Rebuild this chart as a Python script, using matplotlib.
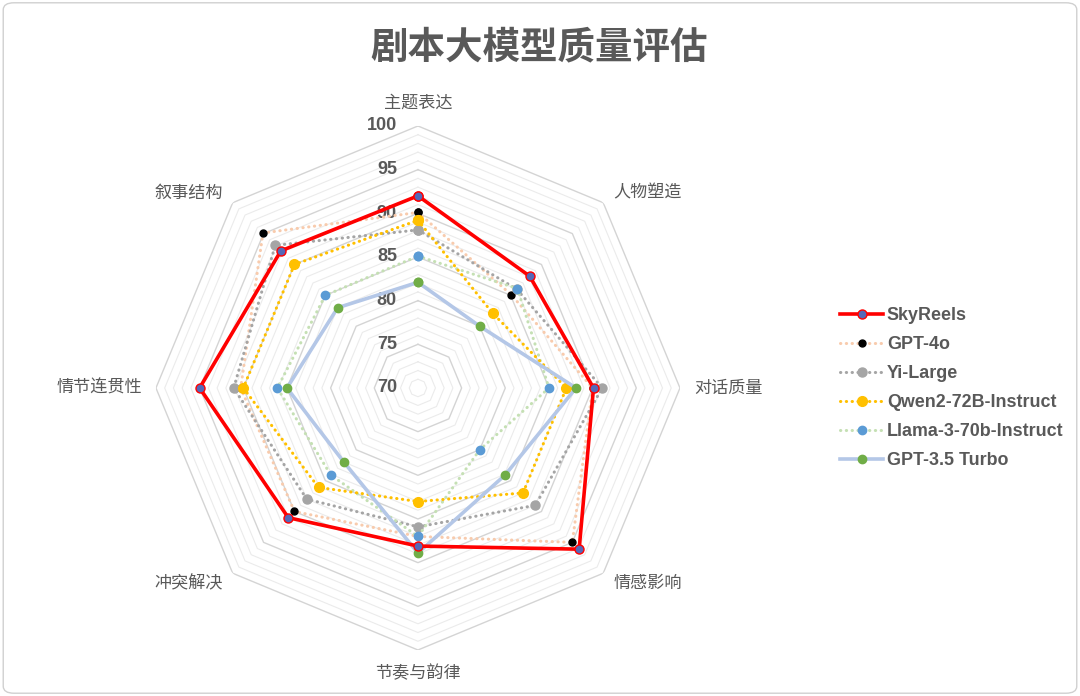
import numpy as np
import matplotlib
matplotlib.use("Agg")
import matplotlib.pyplot as plt
from matplotlib.transforms import ScaledTranslation
from matplotlib.patches import FancyBboxPatch

categories = ['主题表达', '人物塑造', '对话质量', '情感影响',
              '节奏与韵律', '冲突解决', '情节连贯性', '叙事结构']
skyreels = [92.0, 88.1, 90.1, 96.1, 88.1, 91.0, 95.0, 92.2]
gpt4o = [90.1, 85.1, 90.0, 95.0, 87.0, 90.0, 90.3, 95.1]
yi_large = [88.1, 86.0, 91.1, 89.0, 85.9, 88.0, 91.1, 93.1]
qwen2 = [89.2, 82.1, 87.0, 87.0, 83.0, 86.1, 90.0, 90.0]
llama3 = [85.1, 86.1, 85.0, 80.0, 87.0, 84.1, 86.1, 85.0]
gpt35 = [82.1, 80.0, 88.1, 84.1, 88.9, 82.0, 85.0, 83.0]
r_ticks = [70, 75, 80, 85, 90, 95, 100]

TXT = '#595959'
CJK = ['Noto Sans CJK SC', 'DejaVu Sans']

fig = plt.figure(figsize=(10.8, 6.96), dpi=100)
fig.patch.set_facecolor('white')
fig.patches.append(FancyBboxPatch((0.003, 0.004), 0.994, 0.992, boxstyle='round,pad=0,rounding_size=0.01',
                                  transform=fig.transFigure, fill=False, edgecolor='#d0d0d0', lw=1))

ax = fig.add_axes([0.1444, 0.0661, 0.4852, 0.7529], projection='polar')
ax.set_theta_offset(np.pi / 2)
ax.set_theta_direction(-1)
ax.set_ylim(70, 100)
ax.grid(False)
ax.spines['polar'].set_visible(False)
ax.set_xticks([])
ax.set_yticks([])
ax.patch.set_alpha(0)

n = len(categories)
theta = np.arange(n) * 2 * np.pi / n
theta_c = np.append(theta, theta[0])

# octagonal grid rings
for v in range(71, 101):
    major = v % 5 == 0
    ax.plot(theta_c, [v] * (n + 1), color='#d4d4d4' if major else '#ebebeb',
            lw=1.0 if major else 0.8, zorder=1)

# value labels on top axis
off = ScaledTranslation(-0.21, 0, fig.dpi_scale_trans)
for v in r_ticks:
    ax.text(0, v, str(v), transform=ax.transData + off, ha='right', va='center',
            fontsize=13, fontweight='bold', color=TXT, family='Liberation Sans', zorder=2)

# category labels
r_lab = 70 + 276 / 262 * 30
for t, c in zip(theta, categories):
    s = np.sin(t)
    co = np.cos(t)
    ha = 'center' if abs(s) < 0.1 else ('left' if s > 0 else 'right')
    if abs(co) > 0.99:
        va = 'bottom' if co > 0 else 'top'
    else:
        va = 'center'
    ax.text(t, r_lab, c, ha=ha, va=va, fontsize=12.3, color=TXT, family=CJK)

dot = (0, (0.1, 1.8))


def close(vals):
    return list(vals) + [vals[0]]


ax.plot(theta_c, close(gpt4o), color='#F8CBAD', lw=2.2, ls=dot, dash_capstyle='round',
        marker='o', ms=5, mfc='black', mec='black', label='GPT-4o', zorder=3)
ax.plot(theta_c, close(yi_large), color='#A5A5A5', lw=2.2, ls=dot, dash_capstyle='round',
        marker='o', ms=6.5, mfc='#A5A5A5', mec='#A5A5A5', label='Yi-Large', zorder=4)
ax.plot(theta_c, close(qwen2), color='#FFC000', lw=2.2, ls=dot, dash_capstyle='round',
        marker='o', ms=7, mfc='#FFC000', mec='#FFC000', label='Qwen2-72B-Instruct', zorder=6)
ax.plot(theta_c, close(llama3), color='#C5E0B4', lw=2.2, ls=dot, dash_capstyle='round',
        marker='o', ms=6, mfc='#5B9BD5', mec='#5B9BD5', label='Llama-3-70b-Instruct', zorder=5)
ax.plot(theta_c, close(gpt35), color='#B4C7E7', lw=2.6, ls='-',
        marker='o', ms=6, mfc='#70AD47', mec='#70AD47', label='GPT-3.5 Turbo', zorder=7)
ax.plot(theta_c, close(skyreels), color='#FF0000', lw=2.6, ls='-',
        marker='o', ms=6.5, mfc='#5568B8', mec='#FF0000', mew=1.0, label='SkyReels', zorder=8)

handles, labels = ax.get_legend_handles_labels()
order = ['SkyReels', 'GPT-4o', 'Yi-Large', 'Qwen2-72B-Instruct', 'Llama-3-70b-Instruct', 'GPT-3.5 Turbo']
hmap = dict(zip(labels, handles))
leg = fig.legend([hmap[k] for k in order], order, loc='center left',
                 bbox_to_anchor=(840 / 1080, 1 - 388 / 696), frameon=False,
                 borderpad=0, borderaxespad=0, handlelength=2.4, handletextpad=0.22,
                 labelspacing=0.67, numpoints=1,
                 prop={'family': 'Liberation Sans', 'weight': 'bold', 'size': 12.9})
for t in leg.get_texts():
    t.set_color(TXT)

fig.text(539 / 1080, 1 - 47 / 696, '剧本大模型质量评估', ha='center', va='center',
         fontsize=27, fontweight='bold', color=TXT, family=CJK)

fig.savefig('out.png', dpi=100)
